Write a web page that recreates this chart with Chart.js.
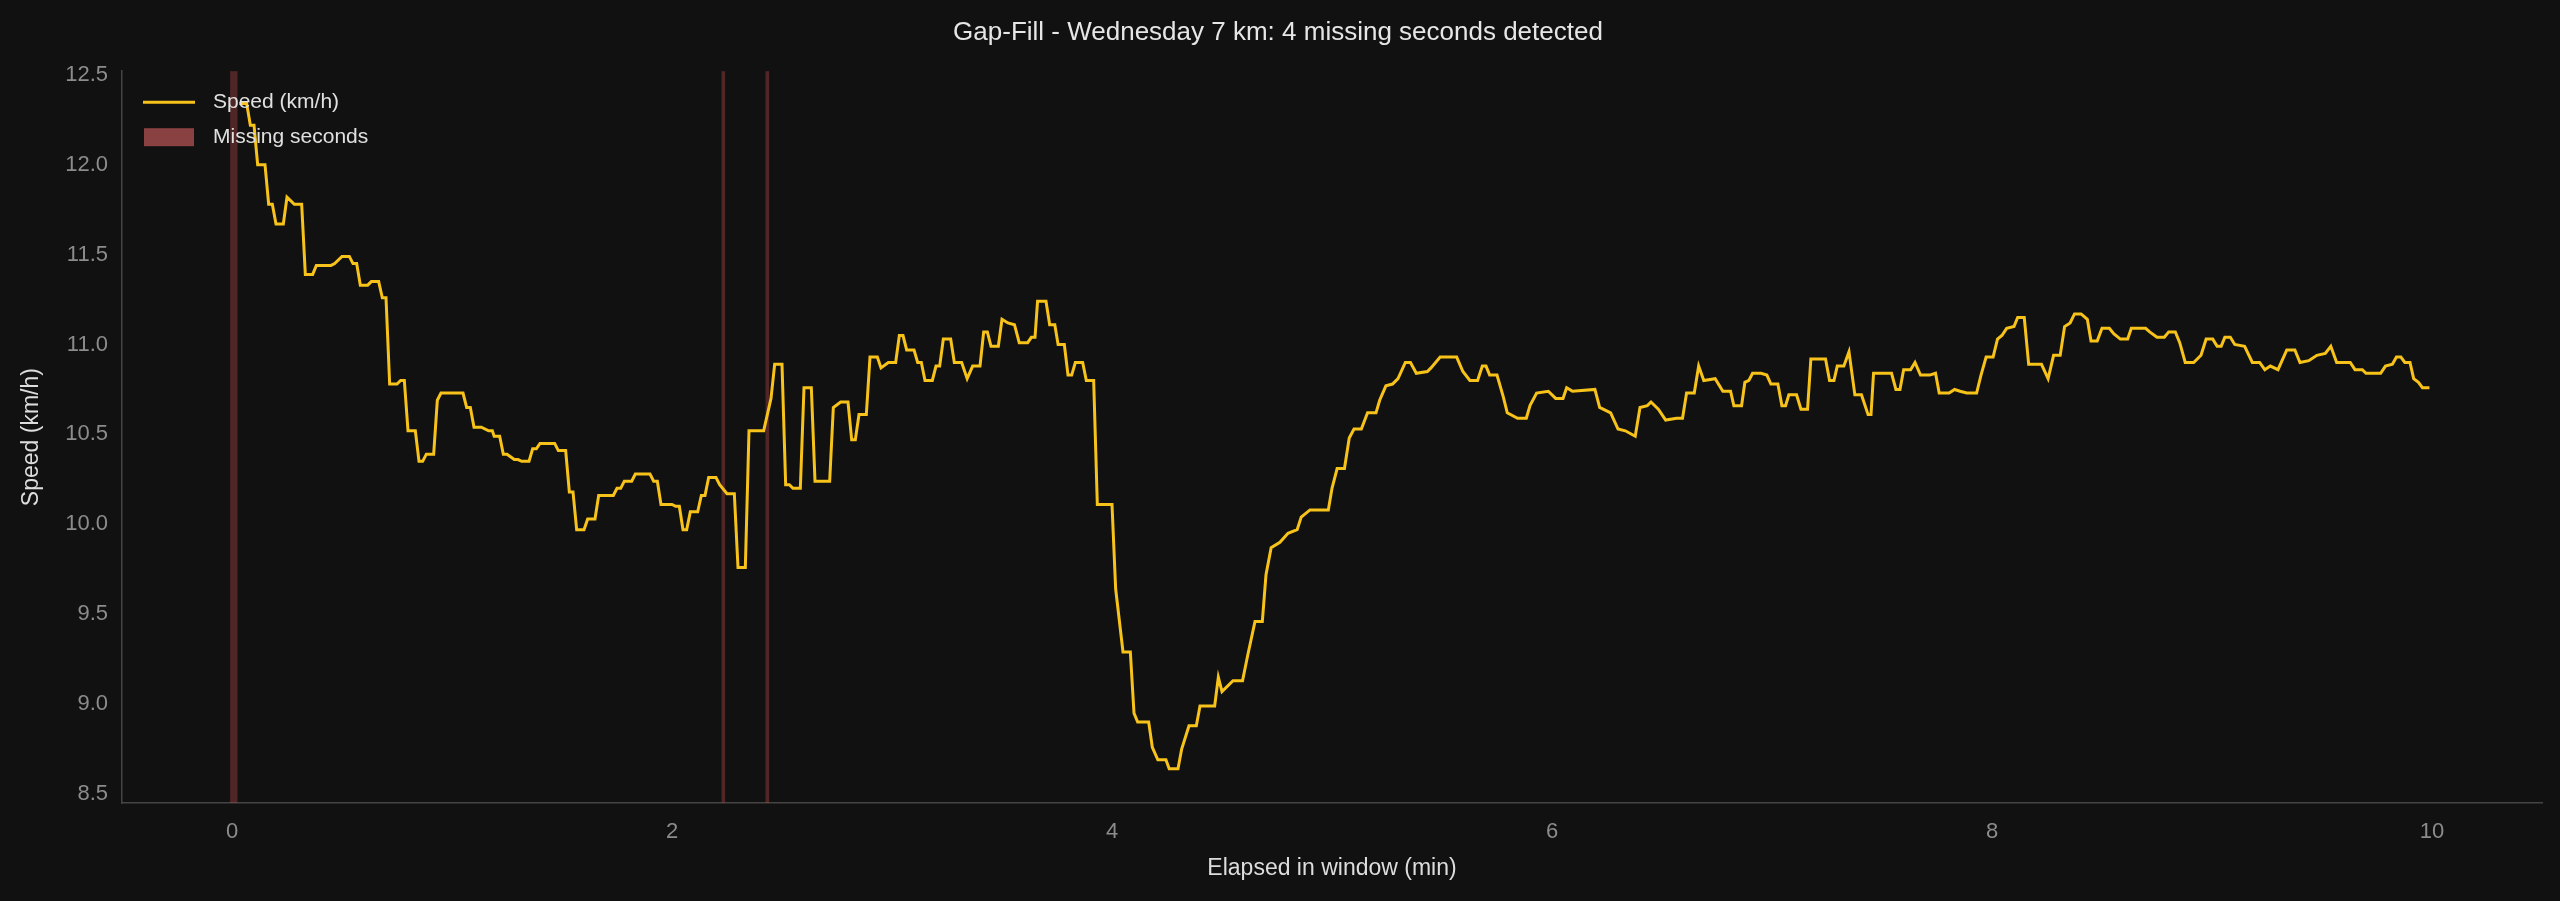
<!DOCTYPE html>
<html>
<head>
<meta charset="utf-8">
<script src="https://cdn.jsdelivr.net/npm/chart.js@4"></script>
<style>
  html, body { margin: 0; padding: 0; background: #111111; }
  #wrap { width: 2560px; height: 901px; }
</style>
</head>
<body>
<div id="wrap"><canvas id="myChart" width="2560" height="901"></canvas></div>
<script>
// sekundy od początku okna i prędkość w tych punktach
const elapsedSec = [2,4,5,6,7,9,10,11,12,14,15,17,19,20,22,23,27,28,30,32,33,34,35,37,38,40,41,42,43,45,46,47,48,50,51,52,53,55,56,57,58,63,64,65,66,68,70,71,71.5,73,74,75,77,78,79,81,82,83,84,88,89,91,92,93,94,96,97,99,100,104,105,106,107,109,110,114,115,116,117,120,121,122,123,124,125,127,128,129,130,132,133,135,137,138,140,141,145,147,148,150,151,152,153,155,156,158,159,163,164,166,168,169,170,171,173,174,176,177,179,181,182,183,184,186,187,188,189,191,192,193,194,196,197,199,200.5,202,204,205,206,207,209,210,211.6,213.4,214.7,217,218,219,219.7,222,223,224.4,225.3,227,228,229,230,232,233,235,236,240,241,243,245,246,247,250,251,252.5,254.7,255.6,258,259,261,263,264,268,269,270,273,275.6,277,279,281,282,283.4,285.8,288,290.5,291.6,294,299,300,301.4,303.4,304.7,306,308,309.7,312,313,314.7,316.5,318,320,321.4,323,326,327,329.5,334,335.7,337.6,339.7,341,342,343,345,346.7,347.8,350.6,353,354,355.8,359,361,363,364,365.6,371.7,373,376,378,380,382.7,384,386,387,389,391,394,395.6,396.7,398.8,400,401.4,404.5,406.6,408.7,409.6,411.7,412.6,413.7,414.7,417,418.6,419.7,421.6,422.7,423.7,424.6,426.7,427.9,429.7,430.6,434.6,435.7,436.9,437.8,439.6,441,442.6,444.4,446.2,447,447.7,452.6,453.8,454.9,455.9,457.8,459,460.5,463,464.6,465.6,468.3,469.8,471.3,473.1,475.8,477,478.4,480.3,481.5,482.7,484,486,487,488.8,490,493.5,495.3,496.8,498.6,499.8,501.3,502.5,504.3,506,507,508.7,510,512,513.2,515,517,518,521.9,523,525,527,528.2,530,531.2,532.7,535,537,538.4,540.2,541.4,542.5,543.5,545,546.2,548.9,551,553,554.4,555.9,558,560.4,562.6,564,566.4,568.6,570.9,572.4,574,577.7,579,581,582,586,587.3,589.2,590.3,591.5,592.6,594,595,596.3,597.4,599.3];
const speedKmh = [12.34,12.34,12.22,12.22,12.0,12.0,11.78,11.78,11.67,11.67,11.82,11.78,11.78,11.39,11.39,11.44,11.44,11.45,11.49,11.49,11.45,11.45,11.33,11.33,11.35,11.35,11.26,11.26,10.78,10.78,10.8,10.8,10.52,10.52,10.35,10.35,10.39,10.39,10.69,10.73,10.73,10.73,10.65,10.65,10.54,10.54,10.52,10.52,10.49,10.49,10.39,10.39,10.36,10.36,10.35,10.35,10.42,10.42,10.45,10.45,10.41,10.41,10.18,10.18,9.97,9.97,10.03,10.03,10.16,10.16,10.2,10.2,10.24,10.24,10.28,10.28,10.24,10.24,10.11,10.11,10.1,10.1,9.97,9.97,10.07,10.07,10.16,10.16,10.26,10.26,10.22,10.17,10.17,9.76,9.76,10.52,10.52,10.7,10.89,10.89,10.22,10.22,10.2,10.2,10.76,10.76,10.24,10.24,10.65,10.68,10.68,10.47,10.47,10.61,10.61,10.93,10.93,10.87,10.9,10.9,11.05,11.05,10.97,10.97,10.9,10.9,10.8,10.8,10.88,10.88,11.03,11.03,10.9,10.9,10.81,10.88,10.88,11.07,11.07,10.99,10.99,11.14,11.12,11.11,11.01,11.01,11.04,11.04,11.24,11.24,11.11,11.11,11.0,11.0,10.83,10.83,10.9,10.9,10.8,10.8,10.11,10.11,9.64,9.29,9.29,8.95,8.9,8.9,8.76,8.69,8.69,8.64,8.64,8.75,8.88,8.88,8.99,8.99,9.15,9.07,9.13,9.13,9.27,9.46,9.46,9.72,9.87,9.9,9.95,9.97,10.04,10.08,10.08,10.2,10.31,10.31,10.48,10.53,10.53,10.62,10.62,10.69,10.77,10.78,10.81,10.9,10.9,10.84,10.85,10.87,10.93,10.93,10.85,10.8,10.8,10.88,10.88,10.83,10.83,10.71,10.62,10.59,10.59,10.66,10.73,10.74,10.7,10.7,10.76,10.74,10.75,10.65,10.62,10.53,10.52,10.49,10.65,10.66,10.68,10.64,10.58,10.59,10.59,10.73,10.73,10.88,10.8,10.81,10.74,10.74,10.66,10.66,10.79,10.8,10.84,10.84,10.83,10.78,10.78,10.66,10.66,10.72,10.72,10.64,10.64,10.92,10.92,10.8,10.8,10.88,10.88,10.96,10.72,10.72,10.61,10.61,10.84,10.84,10.75,10.75,10.86,10.86,10.9,10.83,10.83,10.84,10.73,10.73,10.75,10.74,10.73,10.73,10.83,10.93,10.93,11.03,11.05,11.09,11.1,11.15,11.15,10.89,10.89,10.81,10.94,10.94,11.1,11.12,11.17,11.17,11.14,11.02,11.02,11.09,11.09,11.06,11.03,11.03,11.09,11.09,11.07,11.04,11.04,11.07,11.07,11.01,10.9,10.9,10.94,11.03,11.03,10.99,10.99,11.04,11.04,11.0,10.99,10.9,10.9,10.86,10.88,10.86,10.97,10.97,10.9,10.91,10.94,10.95,10.99,10.9,10.9,10.86,10.86,10.84,10.84,10.88,10.89,10.93,10.93,10.9,10.9,10.81,10.79,10.76,10.76];
// brakujące sekundy w oknie
const missingSec = [0, 1, 134, 146];
const xTicks = [0, 2, 4, 6, 8, 10];
const yTicks = [8.5, 9.0, 9.5, 10.0, 10.5, 11.0, 11.5, 12.0, 12.5];

const lineColor = '#f7c31a';
const gapColor = 'rgba(170, 68, 68, 0.42)';
const gapLegendColor = '#8a4141';
const fontFam = '"Liberation Sans", Arial, sans-serif';

const points = elapsedSec.map((s, i) => ({ x: s / 60, y: speedKmh[i] }));

// pasy brakujących sekund + legenda w rogu wykresu
const gapPlugin = {
    id: 'gaps',
    beforeDatasetsDraw(chart) {
        const { ctx, chartArea, scales } = chart;
        ctx.save();
        ctx.fillStyle = gapColor;
        missingSec.forEach(s => {
            const x0 = scales.x.getPixelForValue((s - 0.5) / 60);
            const x1 = scales.x.getPixelForValue((s + 0.5) / 60);
            ctx.fillRect(x0, chartArea.top, x1 - x0, chartArea.bottom - chartArea.top);
        });
        ctx.restore();
    },
    afterDatasetsDraw(chart) {
        const { ctx, chartArea } = chart;
        const lx = chartArea.left + 21;
        ctx.save();
        ctx.strokeStyle = lineColor;
        ctx.lineWidth = 3;
        ctx.beginPath();
        ctx.moveTo(lx, chartArea.top + 31);
        ctx.lineTo(lx + 52, chartArea.top + 31);
        ctx.stroke();
        ctx.fillStyle = gapLegendColor;
        ctx.fillRect(lx + 1, chartArea.top + 57, 50, 18);
        ctx.fillStyle = '#e0e0e0';
        ctx.font = '21px ' + fontFam;
        ctx.textBaseline = 'middle';
        ctx.fillText('Speed (km/h)', lx + 70, chartArea.top + 31);
        ctx.fillText('Missing seconds', lx + 70, chartArea.top + 66);
        ctx.restore();
    }
};

const ctx = document.getElementById('myChart').getContext('2d');
const myChart = new Chart(ctx, {
    type: 'line',
    data: {
        datasets: [{
            label: 'Speed (km/h)',
            data: points,
            borderColor: lineColor,
            borderWidth: 3,
            pointRadius: 0,
            tension: 0
        }]
    },
    plugins: [gapPlugin],
    options: {
        responsive: false,
        animation: false,
        layout: { padding: { left: 14, right: 18, top: 0, bottom: 15 } },
        plugins: {
            legend: { display: false },
            tooltip: { enabled: false },
            title: {
                display: true,
                text: 'Gap-Fill - Wednesday 7 km: 4 missing seconds detected',
                color: '#e6e6e6',
                font: { family: fontFam, size: 26, weight: 'normal' },
                padding: { top: 17, bottom: 23 }
            }
        },
        scales: {
            x: {
                type: 'linear',
                min: -0.5,
                max: 10.5,
                afterBuildTicks: axis => { axis.ticks = xTicks.map(v => ({ value: v })); },
                ticks: { color: '#8c8c8c', font: { family: fontFam, size: 22 }, padding: 8 },
                grid: { display: false, drawTicks: true, tickLength: 8, tickColor: '#555555' },
                border: { color: '#444444', width: 1.5 },
                title: { display: true, text: 'Elapsed in window (min)', color: '#dddddd',
                         font: { family: fontFam, size: 23 }, padding: { top: 2 } },
                afterFit: s => { s.height = 83; }
            },
            y: {
                min: 8.45,
                max: 12.52,
                afterBuildTicks: axis => { axis.ticks = yTicks.map(v => ({ value: v })); },
                ticks: { color: '#8c8c8c', font: { family: fontFam, size: 22 },
                         padding: 6, callback: v => v.toFixed(1) },
                grid: { display: false, drawTicks: true, tickLength: 8, tickColor: '#555555' },
                border: { color: '#444444', width: 1.5 },
                title: { display: true, text: 'Speed (km/h)', color: '#dddddd',
                         font: { family: fontFam, size: 23 }, padding: { bottom: 8 } },
                afterFit: s => { s.width = 108; }
            }
        }
    }
});
</script>
</body>
</html>
